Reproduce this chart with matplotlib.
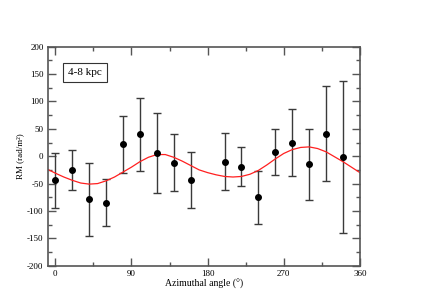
import numpy as np
import matplotlib
matplotlib.use('Agg')
import matplotlib.pyplot as plt
from matplotlib.ticker import MultipleLocator

# data points (azimuth in degrees, RM and error bar ends)
az = [0, 20, 40, 60, 80, 100, 120, 140, 160, 200, 220, 240, 260, 280, 300, 320, 340]
rm = [-44, -25, -79, -85, 22, 40, 5, -12, -44, -10, -19, -75, 8, 25, -14, 41, -1]
rm_hi = [5, 12, -12, -42, 74, 107, 78, 40, 7, 42, 17, -27, 49, 86, 50, 128, 137]
rm_lo = [-94, -62, -145, -128, -31, -27, -68, -64, -95, -62, -54, -123, -34, -37, -80, -46, -140]

# model curve
curve_az = [-9, 0, 10, 20, 30, 40, 50, 60, 70, 80, 90, 100, 110, 120, 130, 140,
            150, 160, 170, 180, 190, 200, 210, 220, 230, 240, 250, 260, 270,
            280, 290, 300, 310, 320, 330, 340, 350, 360]
curve_rm = [-24, -31, -38, -44, -49, -51, -50, -45, -38, -29, -20, -10, -2, 3, 3, -2,
            -9, -17, -25, -30, -34, -37, -38, -37, -33, -26, -16, -5, 5,
            12, 16, 17, 14, 8, -1, -10, -20, -30]

plt.rcParams['font.family'] = 'Liberation Serif'
plt.rcParams['axes.unicode_minus'] = False

fig = plt.figure(figsize=(4.31, 3.04), dpi=100)
ax = fig.add_axes([0.1107, 0.126, 0.7243, 0.7204])

rm = np.array(rm)
yerr = [rm - np.array(rm_lo), np.array(rm_hi) - rm]
ax.errorbar(az, rm, yerr=yerr, fmt='o', color='black', ms=4,
            ecolor='#3a3a3a', elinewidth=1.0, capsize=3, capthick=1.0)
ax.plot(curve_az, curve_rm, color='#ff2020', lw=0.9)

ax.set_xlim(-9, 360)
ax.set_ylim(-200, 200)
ax.xaxis.set_major_locator(MultipleLocator(90))
ax.xaxis.set_minor_locator(MultipleLocator(45))
ax.yaxis.set_major_locator(MultipleLocator(50))
ax.yaxis.set_minor_locator(MultipleLocator(25))
ax.tick_params(which='both', direction='in', top=True, right=True,
               labelsize=6.5, color='#555555', pad=3)
ax.tick_params(which='major', length=6, width=1)
ax.tick_params(which='minor', length=3, width=1)
for s in ax.spines.values():
    s.set_color('#555555')
    s.set_linewidth(1.2)

ax.set_xlabel('Azimuthal angle (°)', fontsize=7, labelpad=1)
ax.set_ylabel('RM (rad/m²)', fontsize=6.5, labelpad=2)

ax.text(0.119, 0.884, '4-8 kpc', transform=ax.transAxes, fontsize=8,
        ha='center', va='center',
        bbox=dict(boxstyle='square,pad=0.45', fc='white', ec='#333333', lw=0.8))

fig.savefig('out.png', dpi=100)
